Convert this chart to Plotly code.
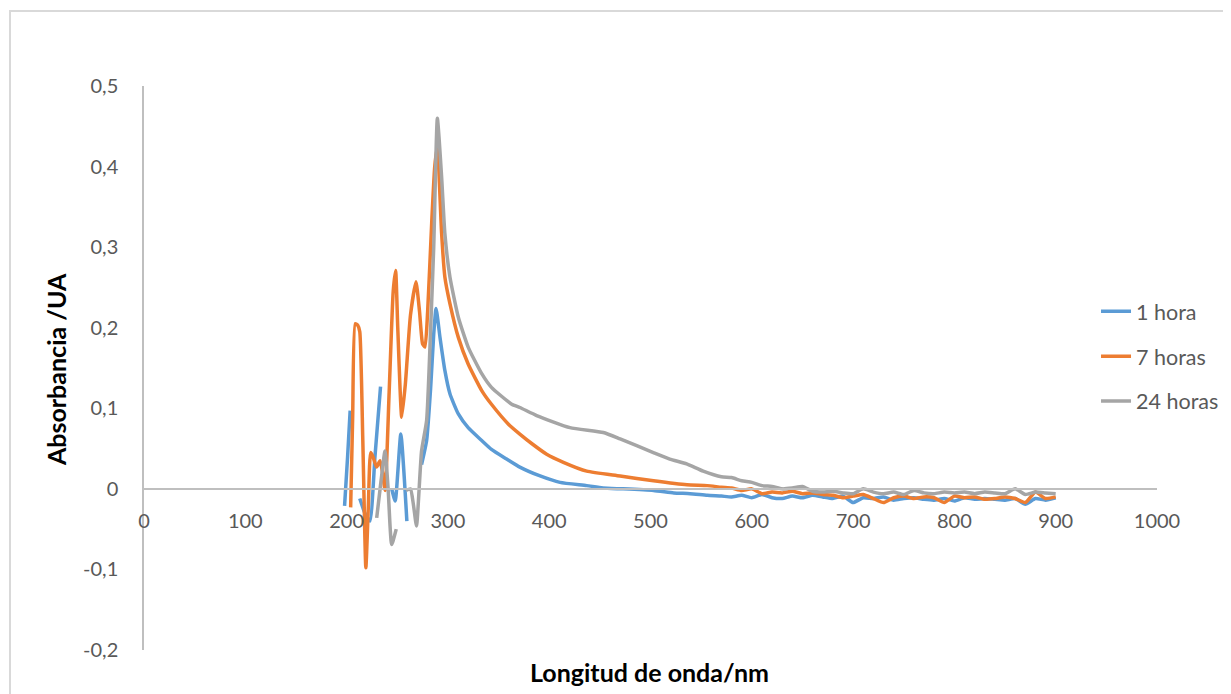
import plotly.graph_objects as go

# wavelengths (nm) and absorbance readings
wavelength_tail = [570, 580, 590, 600, 610, 620, 630, 640, 650, 660, 670, 680, 690, 700, 710, 720, 730,
                   740, 750, 760, 770, 780, 790, 800, 810, 820, 830, 840, 850, 860, 870, 880, 890, 900]

hora1_x = [198, 201, 203.5, None, 213, 218, 223, 228, 233.5, None, 244.5, 248, 253.5, 259.5, None,
           274, 279, 283, 286, 288.3, 292.2, 297, 302, 310.3, 320, 333.4, 343, 358, 371, 391,
           410.7, 437, 453, 473, 503, 523, 539, 556]
hora1_y = [-0.021, 0.04, 0.097, None, -0.012, -0.03, -0.04, 0.04, 0.127, None, 0.0, -0.015, 0.068, -0.04, None,
           0.03, 0.06, 0.126, 0.192, 0.224, 0.188, 0.147, 0.118, 0.093, 0.076, 0.060, 0.049, 0.037, 0.027, 0.016,
           0.008, 0.004, 0.001, 0.0, -0.002, -0.005, -0.006, -0.008]
hora1_tail = [-0.009, -0.010, -0.008, -0.011, -0.007, -0.011, -0.012, -0.009, -0.011, -0.008, -0.010, -0.012,
              -0.009, -0.017, -0.011, -0.012, -0.010, -0.014, -0.012, -0.011, -0.013, -0.014, -0.012, -0.015,
              -0.011, -0.013, -0.012, -0.013, -0.014, -0.012, -0.019, -0.012, -0.014, -0.011]

horas7_x = [204, 206, 208.5, 211, 213, 216, 219, 221.5, 223.7, 226, 229.6, 233, 235.5, 238, 242, 246, 248.4,
            250.5, 254.4, 258, 263, 268.5, 272, 275, 277.4, 280, 284, 287, 289.6, 293.8, 297, 302, 310.3, 320,
            333.4, 343, 360, 371, 383, 397.5, 414, 437, 470, 503, 536, 556]
horas7_y = [-0.023, 0.09, 0.205, 0.203, 0.195, 0.06, -0.098, -0.02, 0.045, 0.04, 0.027, 0.035, 0.02, -0.002,
            0.12, 0.245, 0.271, 0.2, 0.089, 0.13, 0.215, 0.257, 0.22, 0.18, 0.176, 0.22, 0.33, 0.4, 0.425, 0.317,
            0.263, 0.23, 0.188, 0.155, 0.122, 0.105, 0.080, 0.068, 0.056, 0.043, 0.033, 0.022, 0.016, 0.010,
            0.005, 0.004]
horas7_tail = [0.002, 0.001, -0.002, 0.000, -0.006, -0.004, -0.005, -0.003, -0.006, -0.005, -0.007, -0.008,
               -0.011, -0.009, -0.007, -0.012, -0.017, -0.011, -0.009, -0.012, -0.010, -0.011, -0.017, -0.009,
               -0.011, -0.010, -0.013, -0.012, -0.010, -0.012, -0.017, -0.004, -0.012, -0.010]

horas24_x = [229.7, 234, 237.9, 241, 244.5, 249, None, 258.6, 263, 266, 269, 274, 279, 283, 286, 289.6, 293.8,
             297, 302, 310.3, 320, 333.4, 343, 363, 371, 387.6, 420.5, 453.4, 470, 502.8, 519, 535.7, 552]
horas24_y = [-0.036, 0.01, 0.047, 0.0, -0.069, -0.05, None, -0.002, 0.0, -0.02, -0.046, 0.047, 0.085, 0.2, 0.3,
             0.46, 0.387, 0.317, 0.263, 0.213, 0.176, 0.143, 0.126, 0.105, 0.101, 0.091, 0.076, 0.070, 0.062,
             0.045, 0.037, 0.031, 0.022]
horas24_tail = [0.015, 0.014, 0.010, 0.008, 0.004, 0.003, 0.000, 0.001, 0.003, -0.003, -0.004, -0.003, -0.005,
                -0.006, 0.000, -0.004, -0.006, -0.004, -0.007, -0.002, -0.005, -0.006, -0.004, -0.005, -0.004,
                -0.006, -0.004, -0.005, -0.006, 0.000, -0.007, -0.004, -0.005, -0.006]

y_tick_vals = [0.5, 0.4, 0.3, 0.2, 0.1, 0, -0.1, -0.2]
y_tick_labels = ["0,5", "0,4", "0,3", "0,2", "0,1", "0", "-0,1", "-0,2"]

series = [
    ("1 hora", hora1_x + wavelength_tail, hora1_y + hora1_tail, "#5b9bd5"),
    ("7 horas", horas7_x + wavelength_tail, horas7_y + horas7_tail, "#ed7d31"),
    ("24 horas", horas24_x + wavelength_tail, horas24_y + horas24_tail, "#a5a5a5"),
]

fig = go.Figure()
for name, xs, ys, color in series:
    fig.add_trace(
        go.Scatter(
            x=xs,
            y=ys,
            mode="lines",
            name=name,
            legendgroup=name,
            line=dict(color=color, width=3.5, shape="spline", smoothing=0.5),
            connectgaps=False,
        )
    )

# the page body has an 8px margin, so everything is laid out 8px up/left of the target
font = "Lato, 'Liberation Sans', sans-serif"
fig.update_layout(
    width=1231,
    height=694,
    margin=dict(l=136, r=82, t=78, b=52),
    paper_bgcolor="white",
    plot_bgcolor="white",
    font=dict(family=font, size=20, color="#595959"),
    showlegend=True,
    legend=dict(
        x=0.9398, y=0.637, xanchor="left", yanchor="top",
        font=dict(size=21.5, color="#595959"),
        traceorder="grouped", tracegroupgap=14,
        bgcolor="rgba(0,0,0,0)",
    ),
    xaxis=dict(
        range=[0, 1000], dtick=100, showgrid=False, zeroline=False,
        showline=True, linecolor="#bfbfbf", linewidth=1.5,
        anchor="free", position=2 / 7, ticks="", ticklabelstandoff=14,
    ),
    yaxis=dict(
        range=[-0.2, 0.5], tickvals=y_tick_vals, ticktext=y_tick_labels, showgrid=False, zeroline=False,
        showline=True, linecolor="#bfbfbf", linewidth=1.5, ticks="", ticklabelstandoff=20,
    ),
    annotations=[
        dict(text="<b>Absorbancia /UA</b>", xref="paper", yref="paper", x=-0.0869, y=0.498,
             xanchor="center", yanchor="middle",
             textangle=-90, showarrow=False, font=dict(size=25, color="#000000")),
        dict(text="<b>Longitud de onda/nm</b>", xref="paper", yref="paper", x=0.4995, y=-0.039,
             xanchor="center", yanchor="middle", showarrow=False, font=dict(size=25, color="#000000")),
    ],
    shapes=[
        dict(type="rect", xref="paper", yref="paper",
             x0=(2 - 136) / 1013, x1=(1260 - 136) / 1013, y0=(642 - 720) / 564, y1=1 + (78 - 3) / 564,
             line=dict(color="#d9d9d9", width=2), layer="below"),
    ],
)

fig.write_html("out.html")
